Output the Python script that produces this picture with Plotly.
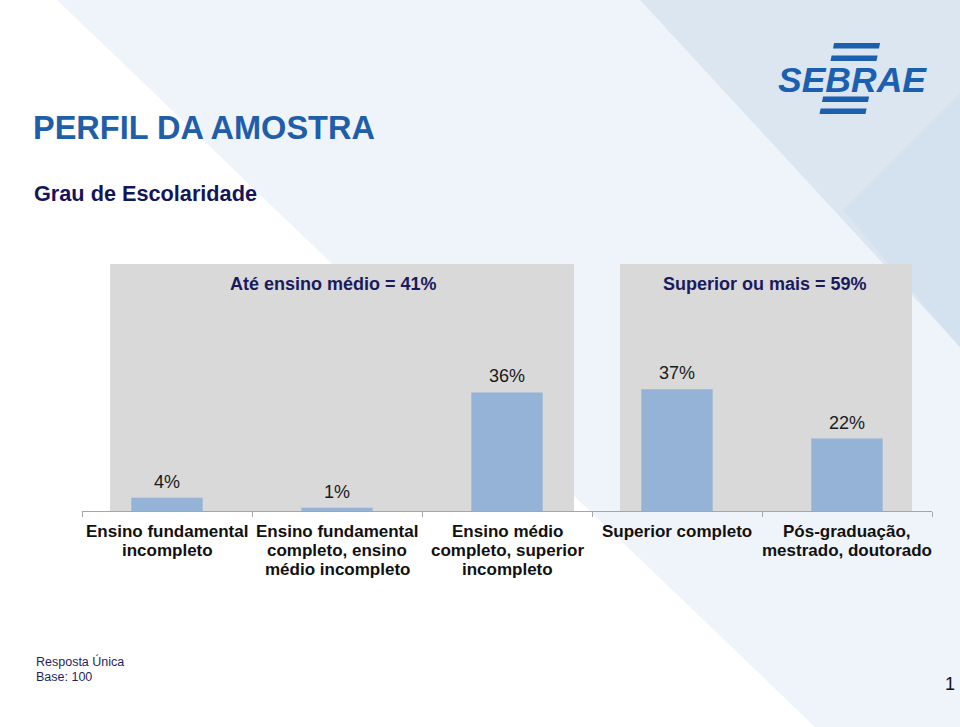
import plotly.graph_objects as go

# ---------------- data ----------------
categories = [
    "Ensino fundamental<br>incompleto",
    "Ensino fundamental<br>completo, ensino<br>médio incompleto",
    "Ensino médio<br>completo, superior<br>incompleto",
    "Superior completo",
    "Pós-graduação,<br>mestrado, doutorado",
]
values = [4, 1, 36, 37, 22]
group_labels = ["Até ensino médio = 41%", "Superior ou mais = 59%"]
title_text = "PERFIL DA AMOSTRA"
subtitle_text = "Grau de Escolaridade"
footnote_lines = ["Resposta Única", "Base: 100"]
page_number = "1"

# ---------------- geometry helpers (pixel -> paper) ----------------
WIDTH, HEIGHT = 960, 727
L, R, T, B = 82, 932, 264, 511
PW, PH = R - L, B - T


def px(x):
    return (x - L) / PW


def py(y):
    return (B - y) / PH


def poly(points, color, layer="below"):
    path = "M " + " L ".join(f"{px(x):.5f},{py(y):.5f}" for x, y in points) + " Z"
    return dict(type="path", xref="paper", yref="paper", path=path,
                fillcolor=color, line=dict(width=0), layer=layer)


SANS = "Liberation Sans, Arial, Helvetica, sans-serif"

fig = go.Figure()
fig.add_trace(go.Bar(
    x=categories, y=values, width=0.42,
    marker=dict(color="#95b3d7", line=dict(width=0)),
    hoverinfo="skip",
))

shapes = []
# background
shapes.append(poly([(57, 0), (960, 0), (960, 727), (815, 727)], "#eff4fa"))
shapes.append(poly([(640, 0), (960, 0), (960, 347)], "#dbe6f1"))
shapes.append(poly([(960, 93), (843, 210), (960, 347)], "#d4e1ee"))
# gray group boxes
shapes.append(poly([(110, 264), (574, 264), (574, 511), (110, 511)], "#d9d9d9"))
shapes.append(poly([(620, 264), (912, 264), (912, 511), (620, 511)], "#d9d9d9"))

# logo bars (slanted)
logo_blue = "#1b5fb0"


def bar(x0, y0, w, h, slant=0.2):
    return [(x0 + slant * h, y0), (x0 + w + slant * h, y0), (x0 + w, y0 + h), (x0, y0 + h)]


for (x0, y0) in [(833, 43), (830.5, 55.5), (822, 96.5), (819.5, 108.5)]:
    shapes.append(poly(bar(x0, y0, 46, 5.5), logo_blue, layer="above"))

annotations = []
# data labels
for c, v in zip(categories, values):
    annotations.append(dict(x=c, y=v, xref="x", yref="y", text=f"{v}%",
                            showarrow=False, yanchor="bottom", yshift=4,
                            font=dict(family=SANS, size=18, color="#1a1a1a")))

# category labels (one annotation per line for tight line spacing)
for c in categories:
    for i, line in enumerate(c.split("<br>")):
        annotations.append(dict(x=c, xref="x", y=py(531.5 + 19.2 * i), yref="paper",
                                text=f"<b>{line}</b>", showarrow=False,
                                xanchor="center", yanchor="middle",
                                font=dict(family=SANS, size=17, color="#111111")))

# group headers
for lbl, cx in zip(group_labels, [333, 765]):
    annotations.append(dict(x=px(cx), y=py(284), xref="paper", yref="paper",
                            text=f"<b>{lbl}</b>", showarrow=False,
                            xanchor="center", yanchor="middle",
                            font=dict(family=SANS, size=18, color="#1a1a5e")))

# title & subtitle
annotations.append(dict(x=px(31), y=py(128), xref="paper", yref="paper",
                        text=f"<b>{title_text}</b>", showarrow=False,
                        xanchor="left", yanchor="middle",
                        font=dict(family=SANS, size=32.5, color="#1f5ea8")))
annotations.append(dict(x=px(32), y=py(193), xref="paper", yref="paper",
                        text=f"<b>{subtitle_text}</b>", showarrow=False,
                        xanchor="left", yanchor="middle",
                        font=dict(family=SANS, size=21.7, color="#15155a")))

# logo text
annotations.append(dict(x=px(852), y=py(80), xref="paper", yref="paper",
                        text="<b><i>SEBRAE</i></b>", showarrow=False,
                        xanchor="center", yanchor="middle",
                        font=dict(family=SANS, size=35.5, color=logo_blue)))

# footnote
for i, line in enumerate(footnote_lines):
    annotations.append(dict(x=px(34), y=py(661 + 16 * i), xref="paper", yref="paper",
                            text=line, showarrow=False,
                            xanchor="left", yanchor="middle",
                            font=dict(family=SANS, size=12.5, color="#1f1f5f")))

# page number
annotations.append(dict(x=px(957), y=py(684), xref="paper", yref="paper",
                        text=page_number, showarrow=False,
                        xanchor="right", yanchor="middle",
                        font=dict(family=SANS, size=18, color="#111111")))

fig.update_layout(
    width=WIDTH, height=HEIGHT,
    margin=dict(l=L, r=WIDTH - R, t=T, b=HEIGHT - B, pad=0, autoexpand=False),
    paper_bgcolor="#ffffff", plot_bgcolor="rgba(0,0,0,0)",
    showlegend=False,
    shapes=shapes, annotations=annotations,
    xaxis=dict(type="category", range=[-0.5, 4.5], showgrid=False,
               automargin=False, tickangle=0, showticklabels=False,
               showline=True, linecolor="#a6a6a6", linewidth=1,
               ticks="outside", tickson="boundaries", ticklen=5,
               tickcolor="#a6a6a6", tickwidth=1,
               fixedrange=True, zeroline=False),
    yaxis=dict(range=[0, 75], visible=False, showgrid=False, zeroline=False,
               automargin=False, fixedrange=True),
)

fig.write_html("out.html", config={"displayModeBar": False})
